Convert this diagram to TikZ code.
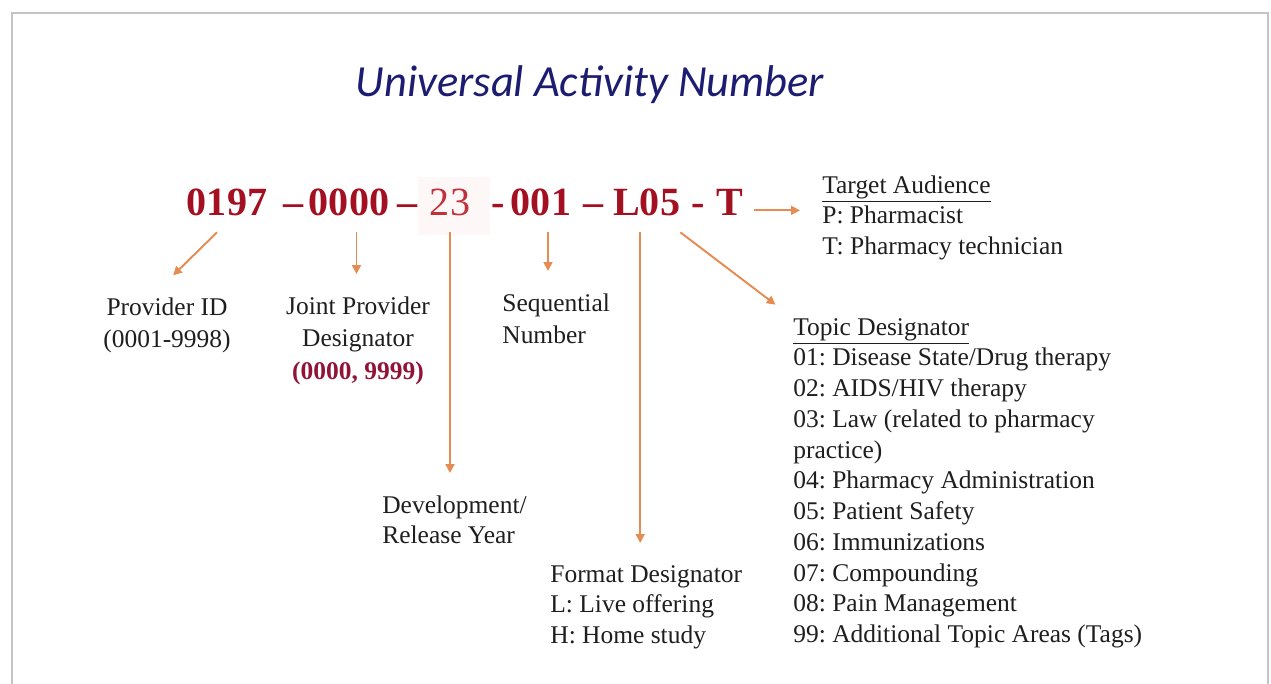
\documentclass[tikz,border=0pt]{standalone}
\usepackage{fontspec}
\setmainfont{Liberation Serif}
\newfontfamily\titlefont{Carlito}
\usepackage{tikz}
\usetikzlibrary{arrows.meta}
\frenchspacing

\definecolor{numred}{RGB}{162,16,34}
\definecolor{yearred}{RGB}{192,50,58}
\definecolor{yearbg}{RGB}{253,247,247}
\definecolor{rangered}{RGB}{145,20,55}
\definecolor{titleblue}{RGB}{28,28,112}
\definecolor{pointcol}{RGB}{228,140,82}
\definecolor{framegray}{RGB}{196,196,196}
\definecolor{txtdark}{RGB}{30,30,30}

\begin{document}
\begin{tikzpicture}[x=0.02cm, y=-0.02cm,
	numseg/.style={font=\fontsize{22.8pt}{26pt}\selectfont\bfseries, text=numred, inner sep=0pt, text depth=0.34cm, anchor=base},
	lbl/.style={font=\fontsize{14.5pt}{17.5pt}\selectfont, text=txtdark, inner sep=0pt, align=left},
	lbltall/.style={lbl, font=\fontsize{14.5pt}{18.7pt}\selectfont},
	pointer/.style={draw=pointcol, line width=1.1pt, -{Triangle[length=5pt,width=5pt]}, shorten >=0.44cm}]
	\useasboundingbox (0,0) rectangle (1271,683);
	\draw[framegray, line width=0.05cm] (12,700) -- (12,13) -- (1268,13) -- (1268,700);

	\node[font=\titlefont\fontsize{25.3pt}{30pt}\selectfont\itshape, text=titleblue, anchor=base] (title) at (590,96) {Universal Activity Number};

	% the number, piece by piece
	\foreach \nm/\cx/\txt in {n0197/227/0197, da/294/–, n0000/349/0000, db/408/–, dc/498/-, n001/541/001, dd/594/–, nL/626.5/L, n05/660/05, de/698/-, nT/730/T}{
		\node[numseg] (\nm) at (\cx,215) {\txt};
	}
	\fill[yearbg] (418,177) rectangle (490,235);
	\node[numseg, font=\fontsize{22.8pt}{26pt}\selectfont, text=yearred] (n23) at (450,215) {23};

	\node[lbltall, anchor=north, align=center] (pid) at (167,297) {Provider ID\\(0001-9998)};
	\node[lbltall, anchor=north, align=center] (jpd) at (358,296) {Joint Provider\\Designator\\\textcolor{rangered}{\bfseries (0000, 9999)}};
	\node[lbltall, anchor=north west] (seq) at (502,293) {Sequential\\Number};
	\node[lbl, anchor=north west] (dev) at (382,495) {Development/\\Release Year};
	\node[lbl, anchor=north west] (fmt) at (550,565) {Format Designator\\L: Live offering\\H: Home study};
	\node[lbl, anchor=north west] (tgt) at (822,175) {\underline{Target Audience}\\P: Pharmacist\\T: Pharmacy technician};
	\node[lbl, anchor=north west] (topic) at (793,318) {\underline{Topic Designator}\\01: Disease State/Drug therapy\\02: AIDS/HIV therapy\\03: Law (related to pharmacy\\practice)\\04: Pharmacy Administration\\05: Patient Safety\\06: Immunizations\\07: Compounding\\08: Pain Management\\99: Additional Topic Areas (Tags)};

	\draw[pointer, shorten >=0.62cm] ([xshift=-0.2cm]n0197.south) -- ([xshift=-0.32cm]pid.north);
	\draw[pointer] ([xshift=0.15cm]n0000.south) -- ([xshift=0.15cm]n0000.south |- jpd.north);
	\draw[pointer] (n23.south) -- (n23.south |- dev.north);
	\draw[pointer] ([xshift=0.14cm]n001.south) -- ([xshift=0.14cm]n001.south |- seq.north);
	\draw[pointer] (nL.south east) -- (nL.south east |- fmt.north);
	\draw[pointer] (n05.south east) -- (topic.north west);
	\draw[pointer, shorten <=0.2cm] (nT.east) -- (nT.east -| tgt.west);
\end{tikzpicture}
\end{document}
